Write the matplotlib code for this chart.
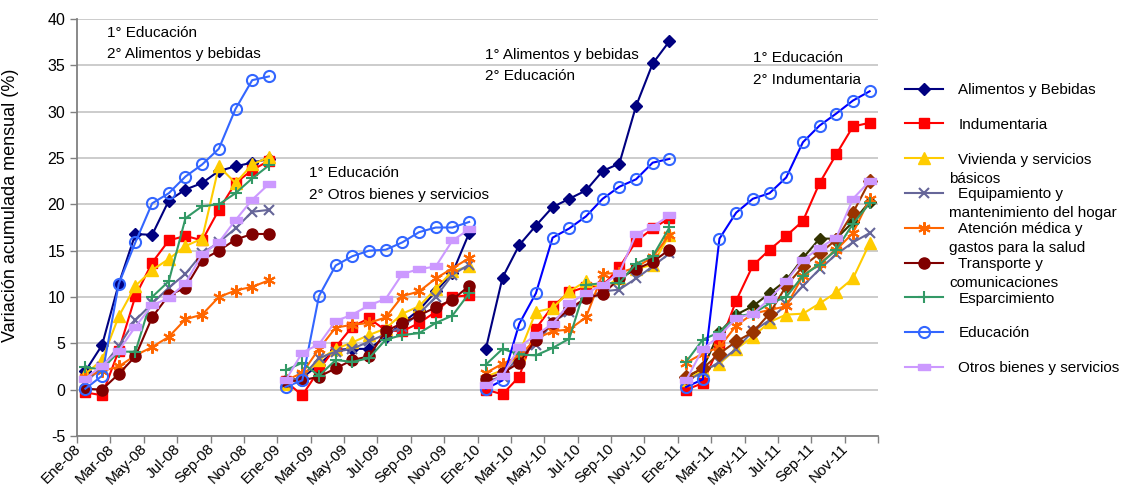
import matplotlib
matplotlib.use('Agg')
import matplotlib.pyplot as plt
import matplotlib.transforms as mtransforms
import numpy as np

plt.rcParams['font.family'] = ['Liberation Sans', 'DejaVu Sans']
plt.rcParams['axes.unicode_minus'] = False

meses = ['Ene', 'Feb', 'Mar', 'Abr', 'May', 'Jun', 'Jul', 'Ago', 'Sep', 'Oct', 'Nov', 'Dic']
anios = ['08', '09', '10', '11']
categorias = [m + '-' + a for a in anios for m in meses]

# variación acumulada (%) por mes, ene-08 a dic-11 (cada año arranca de nuevo)
alimentos = [2.0, 4.8, 11.4, 16.8, 16.7, 20.4, 21.6, 22.3, 23.6, 24.1, 24.5, 24.9,
             0.9, 1.3, 2.7, 4.3, 4.4, 4.4, 5.7, 7.2, 8.6, 10.6, 12.6, 16.9,
             4.4, 12.1, 15.6, 17.7, 19.7, 20.6, 21.5, 23.6, 24.4, 30.6, 35.2, 37.6,
             1.3, 2.3, 6.2, 8.1, 9.0, 10.4, 11.8, 14.2, 16.3, 16.3, 18.1, 20.3]
indumentaria = [-0.3, -0.6, 4.2, 10.1, 13.7, 16.1, 16.6, 16.1, 19.4, 22.3, 23.7, 24.7,
                0.9, -0.6, 2.1, 4.6, 6.8, 7.7, 6.4, 6.3, 7.2, 8.4, 10.0, 10.2,
                0.0, -0.5, 1.4, 6.6, 9.0, 10.5, 11.1, 11.2, 13.2, 16.0, 17.4, 18.5,
                0.0, 0.7, 4.8, 9.6, 13.4, 15.1, 16.6, 18.2, 22.3, 25.4, 28.4, 28.8]
vivienda = [1.7, 3.2, 7.9, 11.2, 12.9, 14.1, 15.5, 16.3, 24.1, 22.3, 24.3, 25.1,
            0.6, 1.4, 3.2, 4.4, 5.1, 5.9, 6.6, 8.2, 9.0, 10.9, 12.8, 13.3,
            1.4, 2.1, 3.9, 8.4, 8.8, 10.6, 11.7, 10.9, 12.1, 13.0, 13.5, 16.7,
            1.0, 2.1, 2.8, 4.4, 5.7, 7.3, 8.1, 8.2, 9.3, 10.5, 12.0, 15.8]
equipamiento = [0.8, 2.4, 4.7, 7.5, 9.3, 11.0, 12.5, 14.7, 15.9, 17.4, 19.2, 19.4,
                0.7, 1.4, 3.4, 4.1, 4.4, 5.2, 6.0, 6.8, 8.2, 10.0, 12.4, 13.5,
                0.9, 1.4, 3.7, 4.8, 7.3, 8.4, 9.9, 10.6, 10.8, 12.0, 13.3, 14.7,
                0.9, 1.9, 3.0, 4.4, 6.3, 7.5, 9.2, 11.2, 13.0, 14.6, 15.9, 16.9]
atencion = [1.4, 2.0, 2.5, 3.7, 4.6, 5.7, 7.6, 8.1, 10.0, 10.7, 11.1, 11.8,
            1.0, 1.8, 4.4, 6.7, 7.0, 7.2, 7.8, 10.1, 10.6, 12.0, 13.1, 14.2,
            1.8, 2.8, 3.6, 5.5, 6.3, 6.5, 7.8, 12.5, 12.6, 13.2, 14.3, 16.7,
            2.9, 3.9, 4.6, 6.9, 8.2, 8.6, 9.0, 12.3, 13.6, 15.1, 16.9, 20.6]
transporte = [0.1, 0.0, 1.7, 3.6, 7.8, 10.2, 11.0, 14.0, 15.0, 16.2, 16.8, 16.8,
              0.9, 1.0, 1.4, 2.3, 3.2, 3.6, 6.3, 7.2, 8.0, 8.9, 9.7, 11.2,
              1.2, 1.8, 2.9, 5.4, 7.2, 8.7, 9.9, 10.3, 12.0, 13.0, 13.8, 15.1,
              1.4, 2.3, 3.9, 5.2, 6.2, 8.2, 11.2, 13.3, 14.7, 16.2, 19.1, 22.5]
esparcimiento = [2.4, 2.2, 4.1, 4.1, 10.0, 11.7, 18.5, 19.8, 20.0, 21.2, 22.8, 24.2,
                 2.1, 2.9, 1.5, 3.2, 3.0, 3.4, 5.4, 5.9, 6.1, 7.2, 8.0, 10.4,
                 2.7, 4.4, 3.8, 3.7, 4.5, 5.5, 11.3, 11.5, 11.5, 13.6, 14.4, 17.5,
                 3.0, 5.4, 6.2, 7.9, 8.2, 9.3, 10.0, 12.3, 13.5, 15.1, 17.9, 20.1]
educacion = [0.1, 1.5, 11.4, 15.9, 20.1, 21.2, 23.0, 24.3, 26.0, 30.3, 33.4, 33.8,
             0.3, 1.0, 10.1, 13.4, 14.4, 15.0, 15.1, 15.9, 17.0, 17.5, 17.5, 18.1,
             0.1, 1.0, 7.1, 10.4, 16.4, 17.4, 18.7, 20.6, 21.9, 22.7, 24.5, 24.9,
             0.3, 1.1, 16.3, 19.1, 20.6, 21.2, 22.9, 26.7, 28.5, 29.8, 31.2, 32.2]
otros = [1.2, 2.6, 4.2, 6.8, 9.1, 9.9, 11.5, 14.6, 15.9, 18.3, 20.5, 22.2,
         1.0, 4.0, 4.9, 7.4, 8.1, 9.1, 9.8, 12.5, 13.0, 13.3, 16.1, 17.3,
         0.5, 1.5, 4.6, 5.9, 7.1, 9.3, 10.4, 11.3, 12.6, 16.8, 17.6, 18.8,
         1.0, 4.4, 5.8, 7.7, 8.2, 9.8, 11.7, 14.0, 15.3, 16.4, 20.6, 22.5]

nombres = ['Alimentos y Bebidas', 'Indumentaria', 'Vivienda y servicios',
           'Equipamiento y', 'Atención médica y', 'Transporte y',
           'Esparcimiento', 'Educación', 'Otros bienes y servicios']
segunda_linea = ['', '', 'básicos', 'mantenimiento del hogar', 'gastos para la salud',
                 'comunicaciones', '', '', '']
series = [alimentos, indumentaria, vivienda, equipamiento, atencion,
          transporte, esparcimiento, educacion, otros]

barra = [(-1, -0.45), (1, -0.45), (1, 0.45), (-1, 0.45), (-1, -0.45)]
estilos = [
    dict(color='#000080', marker='D', ms=6, mfc='#000080', mec='#000080'),
    dict(color='#FF0000', marker='s', ms=7.5, mfc='#FF0000', mec='#FF0000'),
    dict(color='#FFCC00', marker='^', ms=8.5, mfc='#FFCC00', mec='#FFCC00'),
    dict(color='#666699', marker='x', ms=7, mew=1.5, mec='#666699'),
    dict(color='#FF6600', marker=(6, 2, 0), ms=9, mew=1.5, mec='#FF6600'),
    dict(color='#800000', marker='o', ms=8, mfc='#800000', mec='#800000'),
    dict(color='#339966', marker='+', ms=9, mew=1.5, mec='#339966'),
    dict(color='#3366FF', marker='o', ms=8, mfc='none', mec='#3366FF', mew=1.5),
    dict(color='#CC99FF', marker=barra, ms=9, mfc='#CC99FF', mec='#CC99FF'),
]
# en 2011 algunas series quedaron con otros colores
cambios_2011 = {0: dict(color='#333300', mfc='#333300', mec='#333300'),
                5: dict(color='#993300', marker='D', ms=7, mfc='#993300', mec='#993300')}

fig = plt.figure(figsize=(11.21, 4.91), dpi=100)
ax = fig.add_axes([77 / 1121, 1 - 436 / 491, 801 / 1121, 417 / 491])

x = np.arange(len(categorias))
handles = []
for k, (vals, est) in enumerate(zip(series, estilos)):
    vals = np.array(vals)
    for a in range(4):
        sl = slice(12 * a, 12 * a + 12)
        e = dict(est)
        if a >= 2 and k == 7:
            e['color'] = '#0000FF'
        if a == 3 and k in cambios_2011:
            e.update(cambios_2011[k])
        ln, = ax.plot(x[sl], vals[sl], lw=1.5, zorder=3 + k * 0.1, **e)
        if a == 0:
            handles.append(ln)

ax.set_xlim(-0.5, 47.5)
ax.set_ylim(-5, 40)
ax.set_yticks(np.arange(-5, 41, 5))
ax.yaxis.grid(True, color='#C8C8C8', lw=1.3)
ax.set_axisbelow(True)
for s in ['top', 'right']:
    ax.spines[s].set_visible(False)
for s in ['left', 'bottom']:
    ax.spines[s].set_color('#808080')
    ax.spines[s].set_linewidth(1.3)

ax.set_xticks(x[::2])
ax.set_xticks(np.arange(-0.5, 48, 2), minor=True)
ax.tick_params(axis='x', which='major', length=0, pad=4)
ax.tick_params(axis='x', which='minor', length=5, color='#808080', width=1)
ax.tick_params(axis='y', length=5, color='#808080', width=1, labelsize=11.5)
ax.set_xticklabels(categorias[::2], rotation=45, ha='right', va='top',
                   rotation_mode='anchor', fontsize=11)
off = mtransforms.ScaledTranslation(-12 / 100, 0, fig.dpi_scale_trans)
for t in ax.get_xticklabels():
    t.set_transform(t.get_transform() + off)

ax.set_ylabel('Variación acumulada mensual (%)', fontsize=13)
ax.yaxis.set_label_coords((19 - 77) / 801, (436 - 205) / 417)

notas = [(107, 33, '1° Educación'), (107, 54, '2° Alimentos y bebidas'),
         (309, 173, '1° Educación'), (309, 195, '2° Otros bienes y servicios'),
         (485, 55, '1° Alimentos y bebidas'), (485, 76, '2° Educación'),
         (753, 58, '1° Educación'), (753, 80, '2° Indumentaria')]
for px, py, txt in notas:
    fig.text(px / 1121, 1 - py / 491, txt, fontsize=11, va='center', ha='left')

leg = fig.legend(handles, nombres, loc='upper left',
                 bbox_to_anchor=(905 / 1121, 1 - 83 / 491), frameon=False,
                 borderpad=0, borderaxespad=0, handlelength=2.5, handletextpad=1.0,
                 labelspacing=1.36, fontsize=11)
fig.canvas.draw()
for t, extra in zip(leg.get_texts(), segunda_linea):
    if extra:
        bb = t.get_window_extent()
        fig.text((bb.x0 - 9) / 1121, (bb.y0 - 19) / 491, extra, fontsize=11,
                 va='bottom', ha='left')

fig.savefig('out.png', dpi=100)
